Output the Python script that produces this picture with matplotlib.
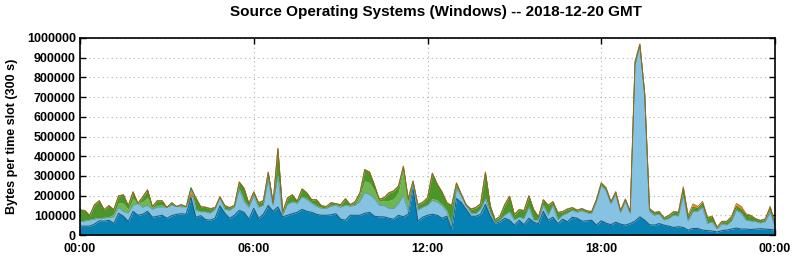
import numpy as np
import matplotlib.pyplot as plt

plt.rcParams['font.family'] = ['Liberation Sans', 'DejaVu Sans']

# 10-minute samples over the day (values in kB)
total = [128, 125, 100, 155, 175, 130, 150, 130, 200, 205,
         150, 220, 160, 195, 230, 145, 175, 175, 140, 165,
         145, 155, 145, 200, 190, 145, 142, 135, 140, 195,
         150, 140, 152, 270, 238, 160, 220, 165, 175, 320,
         165, 440, 118, 190, 205, 172, 235, 215, 180, 180,
         150, 145, 165, 160, 155, 185, 155, 170, 215, 333,
         320, 255, 183, 190, 215, 225, 250, 350, 185, 275,
         155, 167, 190, 315, 260, 220, 165, 150, 265, 208,
         155, 133, 140, 160, 320, 150, 78, 95, 155, 198,
         105, 130, 125, 200, 130, 93, 180, 152, 170, 115,
         120, 133, 140, 127, 135, 124, 120, 180, 265, 240,
         170, 220, 125, 183, 120, 880, 970, 720, 135, 115,
         120, 88, 100, 120, 117, 245, 100, 158, 145, 170,
         90, 95, 40, 70, 70, 95, 160, 145, 108, 100,
         83, 75, 83, 145, 60]

dark_blue = [45, 45, 45, 55, 72, 70, 75, 58, 110, 95,
             68, 120, 100, 105, 120, 90, 95, 100, 85, 98,
             105, 108, 105, 190, 90, 98, 78, 75, 85, 148,
             110, 85, 100, 125, 115, 80, 135, 85, 105, 150,
             120, 142, 92, 100, 108, 115, 130, 120, 115, 105,
             100, 100, 102, 108, 80, 75, 100, 100, 100, 110,
             115, 95, 92, 92, 85, 80, 100, 92, 105, 240,
             70, 90, 100, 105, 100, 85, 95, 30, 185, 165,
             130, 95, 95, 105, 155, 95, 60, 67, 85, 75,
             50, 75, 52, 85, 65, 58, 120, 75, 90, 58,
             80, 67, 90, 85, 70, 72, 75, 50, 72, 60,
             52, 65, 55, 50, 58, 70, 92, 75, 52, 50,
             58, 50, 45, 38, 42, 38, 25, 33, 33, 25,
             22, 20, 15, 22, 25, 30, 35, 30, 30, 28,
             30, 32, 30, 28, 25]

light_blue_top = [67, 70, 75, 80, 83, 85, 88, 92, 140, 120,
                  110, 150, 160, 140, 150, 130, 140, 142, 140, 150,
                  145, 142, 142, 240, 125, 117, 117, 110, 130, 190,
                  130, 125, 140, 230, 170, 140, 200, 140, 150, 280,
                  150, 300, 100, 155, 167, 160, 192, 180, 160, 145,
                  135, 133, 145, 150, 140, 150, 145, 150, 170, 215,
                  205, 185, 150, 150, 135, 133, 160, 200, 117, 255,
                  125, 140, 150, 175, 167, 150, 120, 45, 235, 200,
                  150, 110, 108, 130, 183, 110, 58, 75, 100, 117,
                  75, 90, 83, 140, 75, 75, 150, 100, 150, 75,
                  100, 110, 125, 115, 123, 112, 108, 168, 250, 225,
                  158, 205, 113, 170, 108, 860, 955, 705, 120, 100,
                  105, 75, 83, 100, 95, 200, 70, 117, 120, 140,
                  58, 65, 30, 55, 50, 70, 125, 110, 75, 70,
                  67, 60, 67, 117, 42]

light_green = [5, 5, 5, 5, 5, 5, 5, 15, 25, 40,
               20, 35, 30, 30, 40, 8, 10, 10, 5, 5,
               5, 5, 3, 5, 5, 3, 3, 3, 3, 3,
               3, 3, 3, 5, 5, 3, 3, 3, 3, 5,
               3, 5, 3, 5, 5, 5, 5, 5, 5, 5,
               5, 5, 5, 5, 5, 5, 5, 5, 30, 60,
               60, 40, 20, 25, 40, 50, 60, 130, 40, 5,
               5, 5, 5, 10, 10, 5, 5, 5, 5, 5,
               3, 3, 3, 3, 5, 3, 3, 3, 3, 3,
               3, 3, 3, 3, 3, 3, 3, 3, 3, 3,
               3, 3, 3, 3, 3, 3, 3, 3, 3, 3,
               3, 3, 3, 3, 3, 3, 3, 3, 3, 3,
               3, 3, 3, 3, 3, 5, 3, 3, 3, 3,
               3, 3, 3, 3, 3, 3, 3, 3, 3, 3,
               3, 3, 3, 3, 3]

orange = [2, 2, 2, 2, 2, 2, 2, 2, 2, 2,
          2, 2, 2, 2, 2, 2, 2, 2, 2, 2,
          2, 2, 2, 2, 2, 2, 2, 2, 2, 2,
          2, 2, 2, 2, 2, 2, 2, 2, 2, 2,
          2, 2, 2, 2, 2, 2, 2, 2, 2, 2,
          2, 2, 2, 2, 2, 2, 2, 2, 2, 2,
          2, 2, 2, 2, 2, 2, 2, 2, 2, 2,
          2, 2, 2, 2, 2, 2, 2, 2, 2, 2,
          2, 2, 2, 2, 2, 2, 2, 2, 2, 2,
          2, 2, 2, 2, 2, 2, 2, 2, 2, 2,
          2, 2, 2, 2, 2, 2, 2, 2, 2, 2,
          2, 2, 2, 2, 2, 2, 2, 2, 2, 2,
          4, 2, 2, 3, 5, 8, 15, 18, 12, 10,
          3, 2, 2, 2, 2, 4, 15, 18, 8, 3,
          2, 2, 2, 3, 2]

x_ticks = [0, 6, 12, 18, 24]
x_labels = ['00:00', '06:00', '12:00', '18:00', '00:00']
y_ticks = list(range(0, 1000001, 100000))

hours = np.arange(len(total)) / 6.0
k = 1000.0
db = np.array(dark_blue) * k
lb = np.maximum(np.array(light_blue_top) * k, db)
tot = np.array(total) * k
top_or = tot
bot_or = np.maximum(tot - np.array(orange) * k, lb)
lg = np.minimum(lb + np.array(light_green) * k, bot_or)

fig = plt.figure(figsize=(7.95, 2.6), dpi=100)
ax = fig.add_axes([80 / 795, 1 - 235 / 260, 695 / 795, 197 / 260])

ax.fill_between(hours, 0, db, color='#0681b3', lw=0, zorder=2)
ax.fill_between(hours, db, lb, color='#86c2e2', lw=0, zorder=2)
ax.fill_between(hours, lb, lg, color='#6db652', lw=0, zorder=2)
ax.fill_between(hours, lg, bot_or, color='#4b9628', lw=0, zorder=2)
ax.fill_between(hours, bot_or, top_or, color='#e8901c', lw=0, zorder=2)
ax.plot(hours, db, color='#1b5f82', lw=0.8, zorder=3)
ax.plot(hours, lb, color='#5e9cbc', lw=0.6, zorder=3)
ax.plot(hours, bot_or, color='#3f7f20', lw=0.7, zorder=3)
ax.plot(hours, top_or, color='#a8641e', lw=0.6, zorder=3)

ax.set_xlim(0, 24)
ax.set_ylim(0, 1000000)
ax.set_xticks(x_ticks)
ax.set_xticklabels(x_labels)
ax.set_yticks(y_ticks)
ax.set_yticklabels([str(v) for v in y_ticks])
ax.tick_params(direction='in', length=4, width=1, top=True, right=True,
               labelsize=9)
for lab in ax.get_xticklabels() + ax.get_yticklabels():
    lab.set_fontweight('bold')
ax.tick_params(axis='x', pad=6)
ax.tick_params(axis='y', pad=3)
ax.grid(True, color='#b0b0b0', linestyle=(0, (1, 3)), lw=0.8, zorder=1)
for s in ax.spines.values():
    s.set_linewidth(1.2)
    s.set_zorder(4)

ax.set_ylabel('Bytes per time slot (300 s)', fontsize=9, fontweight='bold',
              labelpad=6)
fig.text(436 / 795, 1 - 12 / 260, 'Source Operating Systems (Windows) -- 2018-12-20 GMT',
         ha='center', va='center', fontsize=11, fontweight='bold')

fig.savefig('out.png', dpi=100)
